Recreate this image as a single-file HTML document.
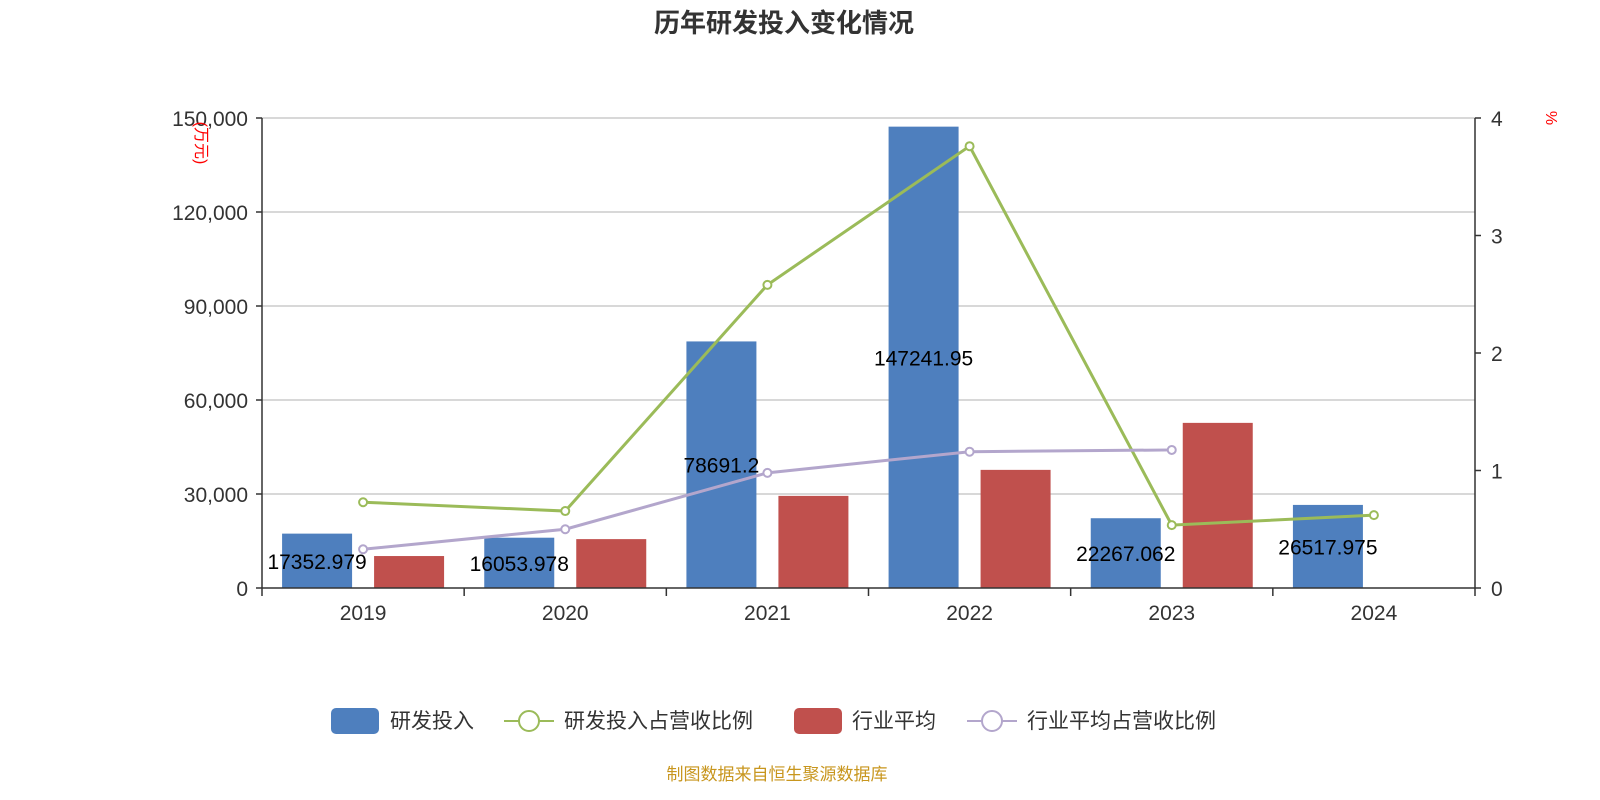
<!DOCTYPE html>
<html><head><meta charset="utf-8"><style>
body{margin:0;background:#fff;}
svg{display:block;font-family:"Liberation Sans","Noto Sans CJK SC",sans-serif;}
</style></head><body>
<svg id="chart" width="1600" height="800" xmlns="http://www.w3.org/2000/svg">
<text x="784" y="32" text-anchor="middle" font-size="26" font-weight="bold" fill="#333">历年研发投入变化情况</text>
<g id="grid"></g><g id="bars"></g><g id="lines"></g><g id="axes"></g><g id="labels"></g>
<text transform="translate(196,143) rotate(90)" text-anchor="middle" font-size="16" fill="red">(万元)</text>
<text transform="translate(1546,118) rotate(90)" text-anchor="middle" font-size="16" fill="red">%</text>
<g>
<g><rect x="331" y="708" width="48" height="26" rx="5" fill="#4e7fbe"/><text x="390" y="728" font-size="21" fill="#333">研发投入</text></g>
<g><line x1="504" y1="721" x2="554" y2="721" stroke="#9bbb59" stroke-width="2"/><circle cx="529" cy="721" r="10" fill="#fff" stroke="#9bbb59" stroke-width="2"/><text x="564" y="728" font-size="21" fill="#333">研发投入占营收比例</text></g>
<g><rect x="794" y="708" width="48" height="26" rx="5" fill="#c0504d"/><text x="852" y="728" font-size="21" fill="#333">行业平均</text></g>
<g><line x1="967" y1="721" x2="1017" y2="721" stroke="#b3a6cc" stroke-width="2"/><circle cx="992" cy="721" r="10" fill="#fff" stroke="#b3a6cc" stroke-width="2"/><text x="1027" y="728" font-size="21" fill="#333">行业平均占营收比例</text></g>
</g>
<text x="777" y="780" text-anchor="middle" font-size="17" fill="#c8961e">制图数据来自恒生聚源数据库</text>
</svg>
<script>
const categories=["2019","2020","2021","2022","2023","2024"];
const rdValues=[17352.979,16053.978,78691.2,147241.95,22267.062,26517.975];
const rdLabels=["17352.979","16053.978","78691.2","147241.95","22267.062","26517.975"];
const industryAvg=[10200,15600,29400,37700,52700,null];
const rdRatio=[0.73,0.655,2.58,3.76,0.535,0.62];
const industryRatio=[0.33,0.50,0.98,1.16,1.175,null];
const leftTicks=[0,30000,60000,90000,120000,150000];
const leftTickLabels=["0","30,000","60,000","90,000","120,000","150,000"];
const rightTicks=[0,1,2,3,4];

const NS="http://www.w3.org/2000/svg";
const X0=262,X1=1475,Y0=588,Y1=118;
const band=(X1-X0)/categories.length;
const yL=v=>Y0-(v/150000)*(Y0-Y1);
const yR=v=>Y0-(v/4)*(Y0-Y1);
const xC=i=>X0+band*(i+0.5);
function mk(tag,attrs,parent,text){const e=document.createElementNS(NS,tag);for(const k in attrs)e.setAttribute(k,attrs[k]);if(text!==undefined)e.textContent=text;document.getElementById(parent).appendChild(e);return e;}

leftTicks.forEach((t,i)=>{
  if(t>0){const g=mk('line',{x1:X0,x2:X1,y1:yL(t),y2:yL(t),stroke:'#ccc','stroke-width':1.5},'grid');
  
  }
  const l=mk('text',{x:X0-14,y:yL(t)+8,'text-anchor':'end','font-size':21,fill:'#333'},'axes',leftTickLabels[i]);
  
  
  const tk=mk('line',{x1:X0-6,x2:X0,y1:yL(t),y2:yL(t),stroke:'#333','stroke-width':1.5},'axes');
  
  
});
rightTicks.forEach(t=>{
  const l=mk('text',{x:X1+16,y:yR(t)+8,'font-size':21,fill:'#333'},'axes',String(t));
  
  
  const tk=mk('line',{x1:X1,x2:X1+6,y1:yR(t),y2:yR(t),stroke:'#333','stroke-width':1.5},'axes');
  
  
});
[[X0,Y1,X0,Y0],[X1,Y1,X1,Y0],[X0,Y0,X1,Y0]].forEach(a=>{
  const l=mk('line',{x1:a[0],y1:a[1],x2:a[2],y2:a[3],stroke:'#333','stroke-width':1.5},'axes');
  
  
});
for(let i=0;i<=categories.length;i++){
  const tk=mk('line',{x1:X0+band*i,x2:X0+band*i,y1:Y0,y2:Y0+8,stroke:'#333','stroke-width':1.5},'axes');
  
  
}
categories.forEach((c,i)=>{
  const l=mk('text',{x:xC(i),y:Y0+32,'text-anchor':'middle','font-size':21,fill:'#333'},'axes',c);
  
  
  const bw=70;
  const b=mk('rect',{x:xC(i)-46-bw/2,y:yL(rdValues[i]),width:bw,height:Y0-yL(rdValues[i]),fill:'#4e7fbe'},'bars');
  
  
  if(industryAvg[i]!=null){
    const r=mk('rect',{x:xC(i)+46-bw/2,y:yL(industryAvg[i]),width:bw,height:Y0-yL(industryAvg[i]),fill:'#c0504d'},'bars');
    
    
  }
  const t=mk('text',{x:xC(i)-46,y:(yL(rdValues[i])+Y0)/2+8,'text-anchor':'middle','font-size':21,fill:'#000'},'labels',rdLabels[i]);
  
  
});
function series(vals,color,name){
  const pts=[];vals.forEach((v,i)=>{if(v!=null)pts.push([xC(i),yR(v)]);});
  const p=mk('polyline',{points:pts.map(p=>p.join(',')).join(' '),fill:'none',stroke:color,'stroke-width':3},'lines');
  
  
  pts.forEach(q=>{const c=mk('circle',{cx:q[0],cy:q[1],r:4,fill:'#fff',stroke:color,'stroke-width':2},'lines');
    
    });
}
series(rdRatio,'#9bbb59','rd-ratio');
series(industryRatio,'#b3a6cc','industry-ratio');
</script>
</body></html>
